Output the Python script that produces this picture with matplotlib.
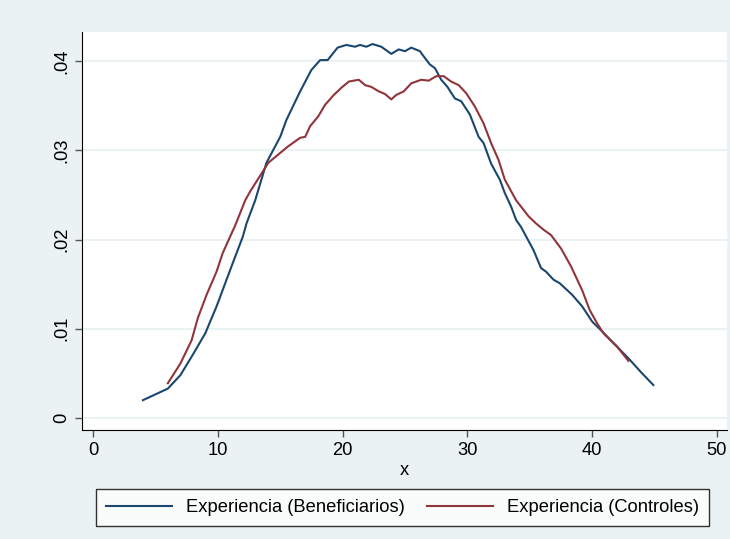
import matplotlib.pyplot as plt

# Experiencia (Beneficiarios)
x_benef = [4.0, 6.0, 7.0, 8.0, 9.0, 9.9, 10.7, 11.4, 12.0, 12.3, 13.0, 13.9, 15.0, 15.5,
           16.6, 17.5, 18.2, 18.8, 19.6, 20.3, 21.0, 21.4, 21.9, 22.4, 23.1, 23.9, 24.5,
           25.0, 25.5, 26.2, 26.4, 27.0, 27.4, 27.9, 28.4, 29.0, 29.5, 30.2, 30.9, 31.3,
           31.9, 32.6, 33.0, 33.5, 33.9, 34.3, 35.3, 35.9, 36.3, 36.9, 37.4, 38.4, 39.2,
           40.0, 40.8, 41.7, 42.9, 44.0, 44.9]
y_benef = [.0020, .0033, .0048, .0071, .0095, .0125, .0155, .0181, .0203, .0218, .0244,
           .0286, .0315, .0334, .0366, .0390, .0401, .0401, .0415, .0418, .0416, .0418,
           .0416, .0419, .0416, .0408, .0413, .0411, .0415, .0411, .0407, .0396, .0392,
           .0379, .0371, .0358, .0355, .0340, .0315, .0308, .0285, .0267, .0252, .0237,
           .0222, .0214, .0188, .0168, .0164, .0155, .0151, .0138, .0125, .0108, .0097,
           .0084, .0067, .0050, .0037]

# Experiencia (Controles)
x_contr = [6.0, 7.0, 7.9, 8.4, 9.1, 9.9, 10.4, 11.4, 12.2, 12.6, 14.05, 15.0, 15.6, 16.6,
           17.0, 17.4, 18.05, 18.6, 19.3, 19.9, 20.5, 21.3, 21.8, 22.3, 22.9, 23.4, 23.9,
           24.3, 24.9, 25.5, 26.3, 26.9, 27.5, 28.1, 28.7, 29.3, 29.9, 30.6, 31.3, 31.9,
           32.5, 33.0, 33.9, 34.9, 35.5, 36.1, 36.7, 37.5, 38.3, 39.2, 39.8, 40.4, 40.9,
           42.0, 42.9]
y_contr = [.0039, .0061, .0087, .0112, .0138, .0164, .0185, .0216, .0244, .0254, .0286,
           .0297, .0304, .0314, .0315, .0327, .0338, .0351, .0362, .0370, .0377, .0379,
           .0373, .0371, .0366, .0363, .0357, .0362, .0366, .0375, .0379, .0378, .0383,
           .0383, .0377, .0373, .0364, .0349, .0330, .0308, .0289, .0267, .0244, .0226,
           .0218, .0211, .0205, .0190, .0170, .0143, .0121, .0106, .0095, .0080, .0064]

xticks = [0, 10, 20, 30, 40, 50]
yticks = [0, .01, .02, .03, .04]
ytick_labels = ['0', '.01', '.02', '.03', '.04']

plt.rcParams['font.family'] = ['Liberation Sans', 'DejaVu Sans']

bg = '#eaf2f3'
fig = plt.figure(figsize=(7.3, 5.39), dpi=100, facecolor=bg)
ax = fig.add_axes([82 / 730, 1 - 430 / 539, 645 / 730, 398 / 539])
ax.set_facecolor('white')

ax.plot(x_benef, y_benef, color='#1a476f', lw=1.5, label='Experiencia (Beneficiarios)')
ax.plot(x_contr, y_contr, color='#90353b', lw=1.5, label='Experiencia (Controles)')

ax.set_xlim(-0.88, 50.8)
ax.set_ylim(-0.00134, 0.04325)
ax.set_xticks(xticks)
ax.set_yticks(yticks)
ax.set_yticklabels(ytick_labels, rotation=90, va='center')
ax.tick_params(labelsize=13.2, length=5, width=1, color='#555555')
ax.grid(axis='y', color=bg, lw=1.5)
ax.set_axisbelow(True)
ax.set_xlabel('x', fontsize=13.2, labelpad=2)

for s in ['top', 'right']:
    ax.spines[s].set_visible(False)
for s in ['left', 'bottom']:
    ax.spines[s].set_color('black')

leg = fig.legend(loc='center', bbox_to_anchor=(87 / 730, 1 - 526 / 539, 631 / 730, 37 / 539),
                 mode='expand', ncol=2, fontsize=13.2, frameon=True, fancybox=False,
                 edgecolor='black', handlelength=3.6, handletextpad=0.75, borderpad=0.55,
                 columnspacing=2.0)
leg.get_frame().set_linewidth(1)

plt.savefig('out.png', dpi=100, facecolor=bg)
